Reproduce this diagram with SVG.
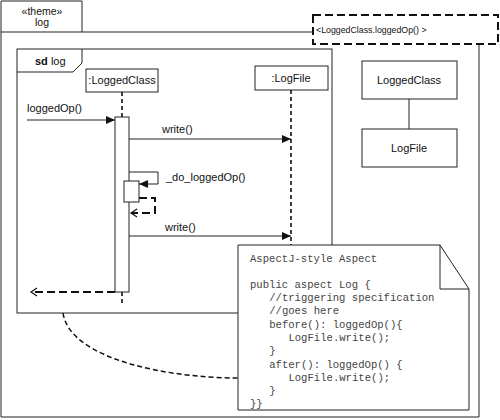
<svg xmlns="http://www.w3.org/2000/svg" width="500" height="420" viewBox="0 0 500 420">
<style>
.ln{fill:none;stroke:#222;stroke-width:1}
.box{fill:#fff;stroke:#222;stroke-width:1}
.ll{fill:none;stroke:#111;stroke-width:1.6;stroke-dasharray:4,3}
.dsh{fill:none;stroke:#111;stroke-width:2;stroke-dasharray:8,4}
.t{font-family:"Liberation Sans",Arial,sans-serif;font-size:11px;fill:#111}
.m{font-family:"Liberation Mono","Courier New",monospace;font-size:10.6px;fill:#444}
</style>
<defs>
<marker id="fa" markerWidth="10" markerHeight="8" refX="9" refY="4" orient="auto" markerUnits="userSpaceOnUse">
<path d="M0,0 L9,4 L0,8 z" fill="#111"/>
</marker>
<marker id="oa" markerWidth="10" markerHeight="10" refX="8" refY="5" orient="auto" markerUnits="userSpaceOnUse">
<path d="M2,1 L8,5 L2,9" fill="none" stroke="#111" stroke-width="1.2"/>
</marker>
</defs>

<g id="theme-frame">
<path class="ln" d="M1,1 H82 V32 H1 Z"/>
<path class="ln" d="M1,32 V417 H479 V44"/>
<path class="ln" d="M82,32 H313"/>
<text class="t" x="42" y="15" text-anchor="middle" style="font-size:10.5px">«theme»</text>
<text class="t" x="42" y="26" text-anchor="middle" style="font-size:10.5px">log</text>
</g>

<g id="binding">
<rect class="dsh" x="313" y="15" width="185" height="29" fill="#fff"/>
<text class="t" x="316" y="33" style="font-size:8.8px">&lt;LoggedClass.loggedOp() &gt;</text>
</g>

<g id="sd-frame">
<rect class="ln" x="17" y="49" width="315" height="264"/>
<path class="ln" d="M17,72 H73 L82,63 V49"/>
<text class="t" x="35" y="65"><tspan font-weight="bold">sd</tspan> log</text>
</g>

<g id="lc-lifeline">
<rect class="box" x="86" y="69" width="72" height="23"/>
<text class="t" x="122" y="84" text-anchor="middle">:LoggedClass</text>
</g>

<g id="lf-lifeline">
<rect class="box" x="255" y="66" width="73" height="24"/>
<text class="t" x="291" y="82" text-anchor="middle">:LogFile</text>
</g>

<g id="connectors">
<path class="ll" d="M122,92 V117"/>
<path class="ll" d="M122,292 V305"/>
<path class="ll" d="M291,90 V245"/>
<path d="M27,120 H115" class="ln" marker-end="url(#fa)"/>
<path d="M129,139 H291" class="ln" marker-end="url(#fa)"/>
<path d="M129,172 H158 V184 H139" class="ln" marker-end="url(#fa)"/>
<path d="M139,198 H155 V213 H131" class="dsh" stroke-dasharray="8,5" marker-end="url(#oa)"/>
<path d="M129,236 H291" class="ln" marker-end="url(#fa)"/>
<path d="M115,292 H31" class="dsh" stroke-dasharray="9,5" marker-end="url(#oa)"/>
<path d="M63,313 C70,360 170,378 238,378" fill="none" stroke="#111" stroke-width="1.5" stroke-dasharray="5,3"/>
<path class="ln" d="M409,99 V129"/>
</g>

<g id="activation">
<rect class="box" x="115" y="117" width="14" height="175"/>
<rect class="box" x="124" y="181" width="15" height="21"/>
</g>

<g id="labels">
<text class="t" x="27" y="112">loggedOp()</text>
<text class="t" x="162" y="133">write()</text>
<text class="t" x="166" y="181">_do_loggedOp()</text>
<text class="t" x="165" y="231">write()</text>
</g>

<g id="class-loggedclass">
<rect class="box" x="362" y="61" width="95" height="38"/>
<text class="t" x="409" y="84" text-anchor="middle">LoggedClass</text>
</g>

<g id="class-logfile">
<rect class="box" x="362" y="129" width="95" height="38"/>
<text class="t" x="409" y="152" text-anchor="middle">LogFile</text>
</g>

<g id="note">
<path class="box" d="M238,245 H440 L469,289 V410 H238 Z"/>
<path class="ln" d="M440,245 V289 H469"/>
<text class="m" x="250" y="262">AspectJ-style Aspect</text>
<text class="m" x="250" y="288">public aspect Log {</text>
<text class="m" x="269.2" y="301">//triggering specification</text>
<text class="m" x="269.2" y="314">//goes here</text>
<text class="m" x="269.2" y="327.5">before(): loggedOp(){</text>
<text class="m" x="288.4" y="341">LogFile.write();</text>
<text class="m" x="269.2" y="354">}</text>
<text class="m" x="269.2" y="367.5">after(): loggedOp() {</text>
<text class="m" x="288.4" y="381">LogFile.write();</text>
<text class="m" x="269.2" y="394">}</text>
<text class="m" x="250" y="407">}}</text>
</g>
</svg>
